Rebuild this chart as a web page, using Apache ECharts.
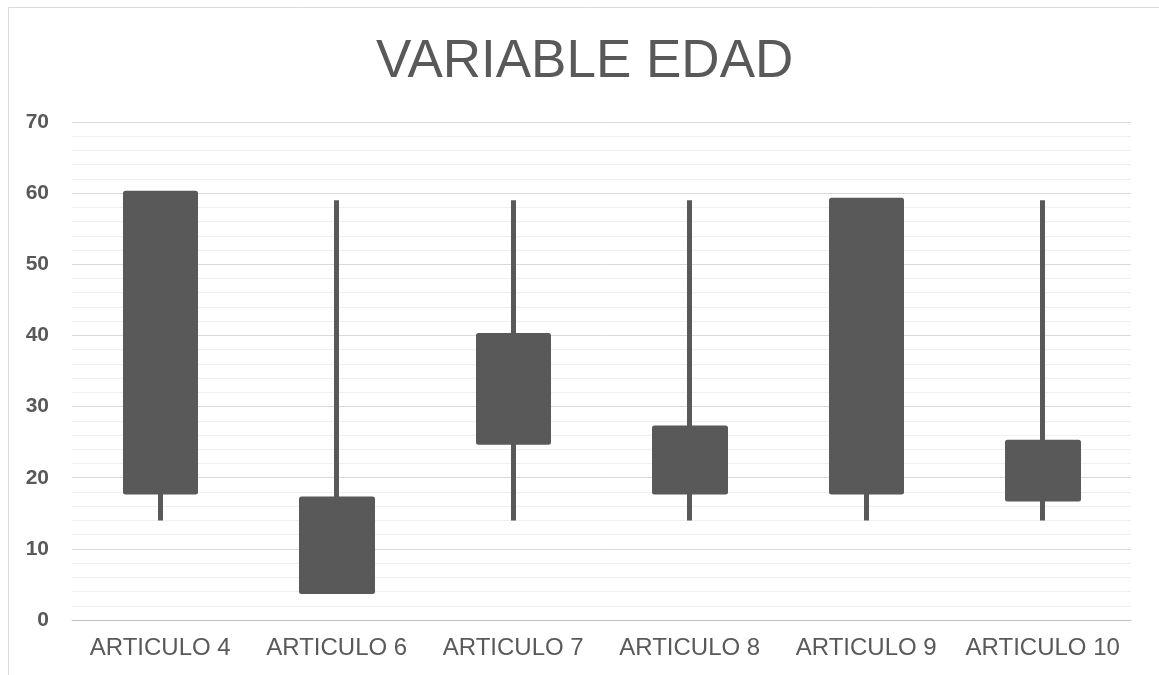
<!DOCTYPE html>
<html>
<head>
<meta charset="utf-8">
<script src="https://cdn.jsdelivr.net/npm/echarts@6/dist/echarts.min.js"></script>
<style>
html,body{margin:0;padding:0;background:#fff;}
#chart{width:1159px;height:675px;}
</style>
</head>
<body>
<div id="chart"></div>
<script>
var categories = ['ARTICULO 4','ARTICULO 6','ARTICULO 7','ARTICULO 8','ARTICULO 9','ARTICULO 10'];
var openVals  = [18, 4, 25, 18, 18, 17];
var closeVals = [60, 17, 40, 27, 59, 25];
var lowVals   = [14, 4, 14, 14, 14, 14];
var highVals  = [59, 59, 59, 59, 59, 59];
var yTicks = [0, 10, 20, 30, 40, 50, 60, 70];

var data = categories.map(function(c, i){
  return [openVals[i], closeVals[i], lowVals[i], Math.max(highVals[i], closeVals[i], openVals[i])];
});

var chart = echarts.init(document.getElementById('chart'), null, {renderer:'canvas'});
var grey = '#595959';
var font = '"Liberation Sans", Arial, sans-serif';
chart.setOption({
  backgroundColor: '#ffffff',
  animation: false,
  title: {
    text: 'VARIABLE EDAD',
    left: 371,
    top: 31,
    textStyle: {color: grey, fontSize: 53, fontWeight: 'normal', fontFamily: font}
  },
  graphic: [{
    type: 'rect',
    shape: {x: 8.5, y: 7.5, width: 1300, height: 800},
    style: {fill: 'none', stroke: '#d9d9d9', lineWidth: 1},
    silent: true
  }],
  grid: {left: 72, right: 28, top: 122, bottom: 55},
  xAxis: {
    type: 'category',
    data: categories,
    axisLine: {show: true, lineStyle: {color: '#bfbfbf', width: 1}},
    axisTick: {show: false},
    axisLabel: {color: grey, fontSize: 24, fontFamily: font, margin: 16, interval: 0}
  },
  yAxis: {
    type: 'value',
    min: 0, max: 70, interval: 10,
    axisLine: {show: false},
    axisTick: {show: false},
    axisLabel: {
      color: grey, fontSize: 21, fontWeight: 'bold', fontFamily: font, margin: 23,
      formatter: function(v){ return yTicks.indexOf(v) >= 0 ? String(v) : ''; }
    },
    splitLine: {show: true, lineStyle: {color: '#d9d9d9', width: 1}},
    minorTick: {show: false, splitNumber: 5},
    minorSplitLine: {show: true, lineStyle: {color: '#f0f0f0', width: 1}}
  },
  series: [{
    type: 'candlestick',
    data: data,
    barWidth: 71,
    itemStyle: {
      color: grey, color0: grey,
      borderColor: grey, borderColor0: grey, borderColorDoji: grey,
      borderWidth: 5, borderJoin: 'round'
    }
  }]
});
</script>
</body>
</html>
